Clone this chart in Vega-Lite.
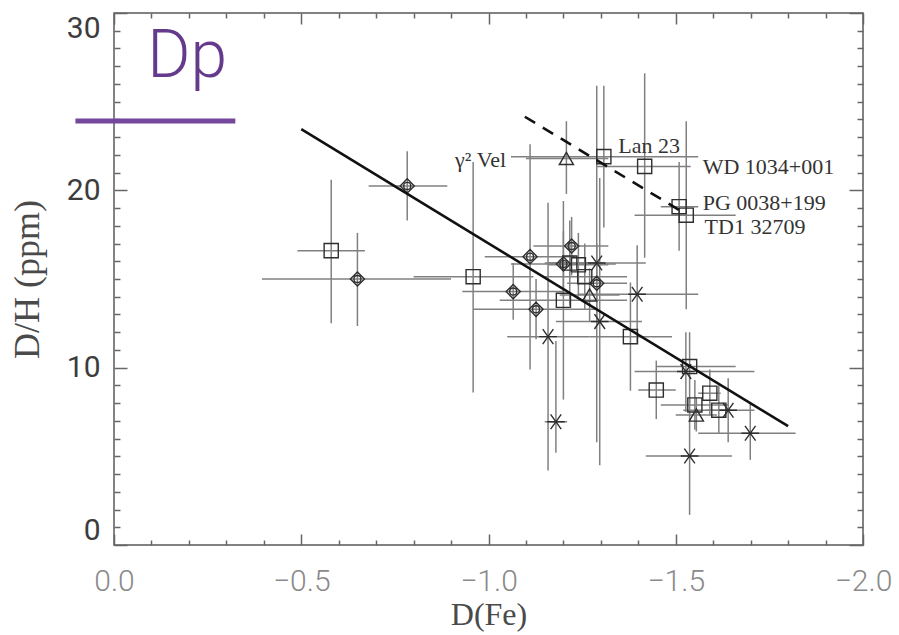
{
  "$schema": "https://vega.github.io/schema/vega-lite/v6.json",
  "width": 749,
  "height": 532,
  "autosize": "none",
  "padding": {"left": 114, "top": 13, "right": 36, "bottom": 90},
  "background": "white",
  "config": {
    "view": {"stroke": "#5a5a5a", "strokeWidth": 1.5},
    "axis": {"domain": false, "grid": false}
  },
  "datasets": {
    "stars": [
      {"x": -0.783, "y": 20.25, "xlo": -0.68, "xhi": -0.89, "ylo": 18.3, "yhi": 22.2, "type": "diamond"},
      {"x": -0.58, "y": 16.6, "xlo": -0.49, "xhi": -0.67, "ylo": 12.5, "yhi": 20.6, "type": "square"},
      {"x": -0.65, "y": 15.0, "xlo": -0.395, "xhi": -0.9, "ylo": 12.35, "yhi": 17.6, "type": "diamond"},
      {"x": -0.959, "y": 15.13, "xlo": -0.8, "xhi": -1.12, "ylo": 8.6, "yhi": 21.6, "type": "square"},
      {"x": -1.111, "y": 16.26, "xlo": -0.99, "xhi": -1.23, "ylo": 9.9, "yhi": 22.6, "type": "diamond"},
      {"x": -1.066, "y": 14.29, "xlo": -0.93, "xhi": -1.2, "ylo": 12.7, "yhi": 15.9, "type": "diamond"},
      {"x": -1.127, "y": 13.29, "xlo": -0.96, "xhi": -1.29, "ylo": 11.6, "yhi": 15.0, "type": "diamond"},
      {"x": -1.159, "y": 11.75, "xlo": -1.05, "xhi": -1.27, "ylo": 4.2, "yhi": 19.3, "type": "asterisk"},
      {"x": -1.18, "y": 6.95, "xlo": -1.15, "xhi": -1.21, "ylo": 5.2, "yhi": 11.5, "type": "asterisk"},
      {"x": -1.208, "y": 21.8, "xlo": -1.1, "xhi": -1.32, "ylo": 19.8, "yhi": 23.9, "type": "triangle"},
      {"x": -1.222, "y": 16.86, "xlo": -1.12, "xhi": -1.32, "ylo": 15.2, "yhi": 18.5, "type": "diamond"},
      {"x": -1.2, "y": 15.85, "xlo": -1.06, "xhi": -1.34, "ylo": 14.0, "yhi": 17.7, "type": "diamond"},
      {"x": -1.217, "y": 15.9, "xlo": -1.15, "xhi": -1.29, "ylo": 13.5, "yhi": 18.3, "type": "square"},
      {"x": -1.24, "y": 15.8, "xlo": -1.16, "xhi": -1.32, "ylo": 14.0, "yhi": 17.6, "type": "square"},
      {"x": -1.257, "y": 15.13, "xlo": -1.15, "xhi": -1.37, "ylo": 13.3, "yhi": 17.0, "type": "square"},
      {"x": -1.2, "y": 13.8, "xlo": -1.03, "xhi": -1.37, "ylo": 8.2, "yhi": 19.4, "type": "square"},
      {"x": -1.289, "y": 15.9, "xlo": -1.16, "xhi": -1.42, "ylo": 5.8, "yhi": 25.9, "type": "asterisk"},
      {"x": -1.289, "y": 14.76, "xlo": -1.21, "xhi": -1.37, "ylo": 12.5, "yhi": 17.0, "type": "diamond"},
      {"x": -1.27, "y": 14.1, "xlo": -1.19, "xhi": -1.35, "ylo": 12.6, "yhi": 15.6, "type": "triangle"},
      {"x": -1.297, "y": 12.6, "xlo": -1.18, "xhi": -1.41, "ylo": 4.5, "yhi": 20.7, "type": "asterisk"},
      {"x": -1.397, "y": 14.14, "xlo": -1.24, "xhi": -1.56, "ylo": 11.4, "yhi": 16.9, "type": "asterisk"},
      {"x": -1.379, "y": 11.75, "xlo": -1.27, "xhi": -1.49, "ylo": 8.7, "yhi": 14.8, "type": "square"},
      {"x": -1.308, "y": 21.9, "xlo": -1.06, "xhi": -1.56, "ylo": 17.9, "yhi": 25.9, "type": "square"},
      {"x": -1.417, "y": 21.35, "xlo": -1.29, "xhi": -1.54, "ylo": 16.2, "yhi": 26.6, "type": "square"},
      {"x": -1.509, "y": 19.08, "xlo": -1.46, "xhi": -1.56, "ylo": 16.6, "yhi": 21.6, "type": "square"},
      {"x": -1.528, "y": 18.6, "xlo": -1.39, "xhi": -1.66, "ylo": 13.3, "yhi": 23.9, "type": "square"},
      {"x": -1.537, "y": 10.06, "xlo": -1.45, "xhi": -1.66, "ylo": 8.0, "yhi": 12.0, "type": "square"},
      {"x": -1.527, "y": 9.78, "xlo": -1.39, "xhi": -1.71, "ylo": 7.5, "yhi": 12.0, "type": "asterisk"},
      {"x": -1.448, "y": 8.74, "xlo": -1.4, "xhi": -1.5, "ylo": 7.1, "yhi": 10.4, "type": "square"},
      {"x": -1.591, "y": 8.56, "xlo": -1.56, "xhi": -1.62, "ylo": 7.3, "yhi": 9.9, "type": "square"},
      {"x": -1.551, "y": 7.9, "xlo": -1.46, "xhi": -1.64, "ylo": 6.5, "yhi": 9.3, "type": "square"},
      {"x": -1.555, "y": 7.33, "xlo": -1.5, "xhi": -1.61, "ylo": 6.4, "yhi": 8.3, "type": "triangle"},
      {"x": -1.615, "y": 7.6, "xlo": -1.58, "xhi": -1.65, "ylo": 6.3, "yhi": 9.0, "type": "square"},
      {"x": -1.64, "y": 7.6, "xlo": -1.52, "xhi": -1.71, "ylo": 5.8, "yhi": 9.4, "type": "asterisk"},
      {"x": -1.699, "y": 6.3, "xlo": -1.56, "xhi": -1.82, "ylo": 4.8, "yhi": 8.0, "type": "asterisk"},
      {"x": -1.537, "y": 5.02, "xlo": -1.42, "xhi": -1.65, "ylo": 1.7, "yhi": 8.3, "type": "asterisk"}
    ],
    "fit": [
      {"x": -0.5, "y": 23.45},
      {"x": -1.8, "y": 6.7}
    ],
    "upper": [
      {"x": -1.097, "y": 24.15},
      {"x": -1.524, "y": 18.7}
    ],
    "names": [
      {"x": -0.9107, "y": 21.7, "name": "γ² Vel"},
      {"x": -1.3467, "y": 22.5, "name": "Lan 23"},
      {"x": -1.572, "y": 21.32, "name": "WD 1034+001"},
      {"x": -1.572, "y": 19.3, "name": "PG 0038+199"},
      {"x": -1.577, "y": 17.95, "name": "TD1 32709"}
    ],
    "heading": [
      {"x": -0.089, "y": 26.4, "x2": 0.103, "x3": -0.324, "yline": 23.91, "title": "Dp"}
    ]
  },
  "layer": [
    {
      "description": "horizontal error bars; carries the labelled bottom and left axes",
      "data": {"name": "stars"},
      "mark": {"type": "rule", "stroke": "#808080", "strokeWidth": 1.5},
      "encoding": {
        "x": {
          "field": "xlo", "type": "quantitative",
          "scale": {"domain": [0, -2], "nice": false, "zero": false},
          "axis": {
            "orient": "bottom", "values": [0, -0.5, -1, -1.5, -2], "format": ".1f",
            "ticks": false, "labelFont": "Roboto", "labelFontWeight": 300, "labelFontSize": 30,
            "labelColor": "#8a8a8a", "labelPadding": 21, "labelFlush": false, "labelOverlap": false,
            "title": "D(Fe)", "titleFont": "Liberation Serif", "titleFontSize": 32,
            "titleFontWeight": "normal", "titleColor": "#4a4a4a", "titlePadding": 3
          }
        },
        "x2": {"field": "xhi"},
        "y": {
          "field": "y", "type": "quantitative",
          "scale": {"domain": [0, 30], "nice": false, "zero": false},
          "axis": {
            "orient": "left", "values": [0, 10, 20, 30], "format": "d",
            "ticks": false, "labelFont": "Roboto", "labelFontSize": 30, "labelColor": "#3c3c3c",
            "labelPadding": 14, "labelFlush": true, "labelOverlap": false,
            "title": "D/H (ppm)", "titleFont": "Liberation Serif", "titleFontSize": 36,
            "titleFontWeight": "normal", "titleColor": "#4a4a4a", "titlePadding": 20
          }
        }
      }
    },
    {
      "description": "vertical error bars; major ticks bottom and left",
      "data": {"name": "stars"},
      "mark": {"type": "rule", "stroke": "#808080", "strokeWidth": 1.5},
      "encoding": {
        "x": {
          "field": "x", "type": "quantitative",
          "axis": {"orient": "bottom", "values": [0, -0.5, -1, -1.5, -2], "labels": false,
                   "tickSize": -11, "tickColor": "#666", "tickWidth": 1.5, "title": null}
        },
        "y": {
          "field": "ylo", "type": "quantitative",
          "axis": {"orient": "left", "values": [0, 10, 20, 30], "labels": false,
                   "tickSize": -13, "tickColor": "#666", "tickWidth": 1.5, "title": null}
        },
        "y2": {"field": "yhi"}
      }
    },
    {
      "description": "symbols by sample type; minor ticks bottom and left",
      "data": {"name": "stars"},
      "mark": {"type": "point", "filled": false, "stroke": "#2e2e2e", "strokeWidth": 1.4, "opacity": 1, "size": 200},
      "encoding": {
        "x": {
          "field": "x", "type": "quantitative",
          "axis": {"orient": "bottom",
                   "values": [-0.1, -0.2, -0.3, -0.4, -0.6, -0.7, -0.8, -0.9, -1.1, -1.2, -1.3, -1.4, -1.6, -1.7, -1.8, -1.9],
                   "labels": false, "tickSize": -5, "tickColor": "#666", "tickWidth": 1.5, "title": null}
        },
        "y": {
          "field": "y", "type": "quantitative",
          "axis": {"orient": "left",
                   "values": [1, 2, 3, 4, 5, 6, 7, 8, 9, 11, 12, 13, 14, 15, 16, 17, 18, 19, 21, 22, 23, 24, 25, 26, 27, 28, 29],
                   "labels": false, "tickSize": -6, "tickColor": "#666", "tickWidth": 1.5, "title": null}
        },
        "shape": {
          "field": "type", "type": "nominal", "legend": null,
          "scale": {
            "domain": ["square", "diamond", "triangle", "asterisk"],
            "range": [
              "square",
              "M0,-1L1,0L0,1L-1,0Z M0.5,0 A0.5,0.5 0 1,1 -0.5,0 A0.5,0.5 0 1,1 0.5,0",
              "triangle-up",
              "M-1.25,0L1.25,0M-0.75,-1.05L0.75,1.05M-0.75,1.05L0.75,-1.05"
            ]
          }
        }
      }
    },
    {
      "description": "least-squares fit; major ticks top and right",
      "data": {"name": "fit"},
      "mark": {"type": "line", "stroke": "#111", "strokeWidth": 2.6},
      "encoding": {
        "x": {
          "field": "x", "type": "quantitative",
          "axis": {"orient": "top", "values": [0, -0.5, -1, -1.5, -2], "labels": false,
                   "tickSize": -11, "tickColor": "#666", "tickWidth": 1.5, "title": null}
        },
        "y": {
          "field": "y", "type": "quantitative",
          "axis": {"orient": "right", "values": [0, 10, 20, 30], "labels": false,
                   "tickSize": -14, "tickColor": "#666", "tickWidth": 1.5, "title": null}
        }
      }
    },
    {
      "description": "upper envelope; minor ticks top and right",
      "data": {"name": "upper"},
      "mark": {"type": "line", "stroke": "#111", "strokeWidth": 2.6, "strokeDash": [12, 9]},
      "encoding": {
        "x": {
          "field": "x", "type": "quantitative",
          "axis": {"orient": "top",
                   "values": [-0.1, -0.2, -0.3, -0.4, -0.6, -0.7, -0.8, -0.9, -1.1, -1.2, -1.3, -1.4, -1.6, -1.7, -1.8, -1.9],
                   "labels": false, "tickSize": -5, "tickColor": "#666", "tickWidth": 1.5, "title": null}
        },
        "y": {
          "field": "y", "type": "quantitative",
          "axis": {"orient": "right",
                   "values": [1, 2, 3, 4, 5, 6, 7, 8, 9, 11, 12, 13, 14, 15, 16, 17, 18, 19, 21, 22, 23, 24, 25, 26, 27, 28, 29],
                   "labels": false, "tickSize": -6, "tickColor": "#666", "tickWidth": 1.5, "title": null}
        }
      }
    },
    {
      "description": "star names",
      "data": {"name": "names"},
      "mark": {"type": "text", "align": "left", "baseline": "middle", "font": "Liberation Serif", "fontSize": 22, "fill": "#333"},
      "encoding": {
        "x": {"field": "x", "type": "quantitative", "axis": null},
        "y": {"field": "y", "type": "quantitative", "axis": null},
        "text": {"field": "name"}
      }
    },
    {
      "description": "panel heading",
      "data": {"name": "heading"},
      "mark": {"type": "text", "align": "left", "baseline": "alphabetic", "font": "Roboto", "fontWeight": 300, "fontSize": 66, "fill": "#653a8c"},
      "encoding": {
        "x": {"field": "x", "type": "quantitative", "axis": null},
        "y": {"field": "y", "type": "quantitative", "axis": null},
        "text": {"field": "title"}
      }
    },
    {
      "description": "heading underline",
      "data": {"name": "heading"},
      "mark": {"type": "rule", "stroke": "#74479c", "strokeWidth": 5, "clip": false},
      "encoding": {
        "x": {"field": "x2", "type": "quantitative", "axis": null},
        "x2": {"field": "x3"},
        "y": {"field": "yline", "type": "quantitative", "axis": null}
      }
    }
  ],
  "resolve": {"axis": {"x": "independent", "y": "independent"}}
}
